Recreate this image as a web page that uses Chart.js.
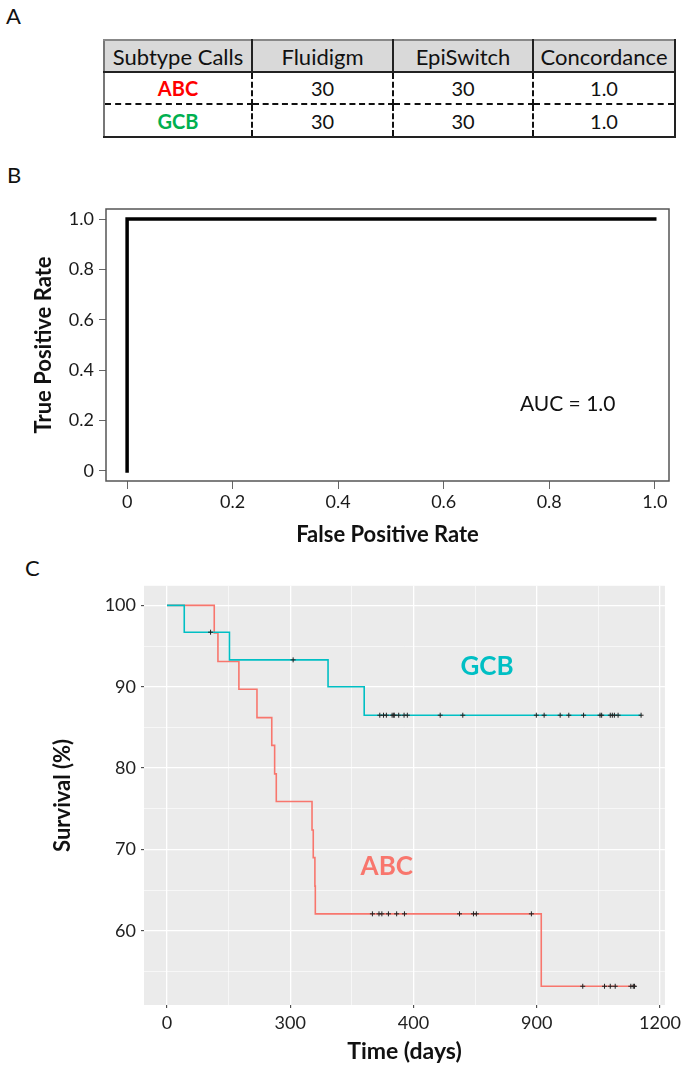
<!DOCTYPE html>
<html>
<head>
<meta charset="utf-8">
<script src="https://cdn.jsdelivr.net/npm/chart.js@4.4.1/dist/chart.umd.min.js"></script>
<style>
  body { margin: 0; width: 685px; height: 1068px; background: #fff; position: relative; overflow: hidden; font-family: Lato, sans-serif; }
  .panel { position: absolute; font-size: 22px; line-height: 22px; color: #111; }
  #calls { position: absolute; left: 103px; top: 39px; border-collapse: collapse; table-layout: fixed; width: 563px; }
  #calls th, #calls td { padding: 0; text-align: center; font-family: Lato, sans-serif; font-size: 20px; font-weight: normal; color: #111; }
  #calls th { background: #d9d9d9; height: 30px; font-size: 22px; border: 2px solid #222; border-top-color: #888; }
  #calls th:first-child { border-left-color: #777; }
  #calls th:nth-child(1) { width: 146px; }
  #calls th:nth-child(2) { width: 139px; }
  #calls th:nth-child(3) { width: 138px; }
  #calls th:nth-child(4) { width: 140px; }
  #calls td { height: 30px; border: 2px dashed #111; }
  #calls tr:last-child td { border-bottom: 2px solid #222; height: 31px; }
  #calls td:first-child { border-left: 2px solid #777; font-weight: bold; }
  #calls td:last-child { border-right: 2px solid #222; }
  canvas { position: absolute; left: 0; }
</style>
</head>
<body>
<div class="panel" style="left:6px;top:5px">A</div>
<div class="panel" style="left:7px;top:164px">B</div>
<div class="panel" style="left:25px;top:557px">C</div>
<table id="calls"></table>
<canvas id="rocChart" width="685" height="370" style="top:190px"></canvas>
<canvas id="kmChart" width="685" height="498" style="top:570px"></canvas>
<script>
// A: subtype call table
const tableHeaders = ["Subtype Calls", "Fluidigm", "EpiSwitch", "Concordance"];
const subtypes = ["ABC", "GCB"];
const subtypeColors = ["#ff0000", "#00b050"];
const fluidigmCalls = [30, 30];
const episwitchCalls = [30, 30];
const concordance = ["1.0", "1.0"];

// B: ROC curve
const rocFpr = [0, 0, 1];
const rocTpr = [0, 1, 1];
const rocTickValues = [0, 0.2, 0.4, 0.6, 0.8, 1.0];
const rocTickLabels = ["0", "0.2", "0.4", "0.6", "0.8", "1.0"];
const aucText = "AUC = 1.0";

// C: Kaplan-Meier survival
const gcbTimes = [0, 42, 152, 392, 480, 1154];
const gcbSurvival = [100, 96.7, 93.3, 90.0, 86.5, 86.5];
const gcbCensored = [106, 307, 518, 527, 534, 548, 552, 553, 564, 577, 585, 665, 720, 899, 918, 957, 978, 1014, 1054, 1058, 1079, 1084, 1089, 1098, 1154];
const abcTimes = [0, 115, 124, 175, 219, 255, 262, 266, 353, 356, 360, 361, 911, 1141];
const abcSurvival = [100, 96.6, 93.1, 89.7, 86.2, 82.8, 79.3, 75.9, 72.4, 69.0, 65.5, 62.1, 53.2, 53.2];
const abcCensored = [500, 516, 523, 539, 559, 578, 712, 746, 753, 887, 1012, 1065, 1079, 1091, 1129, 1135, 1138];
const timeTicks = [0, 300, 600, 900, 1200];
const timeTickLabels = ["0", "300", "400", "900", "1200"];
const timeMinorTicks = [150, 450, 750, 1050];
const survTicks = [60, 70, 80, 90, 100];
const survMinorTicks = [55, 65, 75, 85, 95];
const groupNames = ["GCB", "ABC"];
const groupLabelTimes = [779, 535];
const groupLabelSurv = [92.5, 67.9];

const gcbColor = "#00bfc4";
const abcColor = "#f8766d";

Chart.defaults.font.family = "Lato, sans-serif";
Chart.defaults.animation = false;

// table
const table = document.getElementById("calls");
const head = table.insertRow();
tableHeaders.forEach(h => {
    const th = document.createElement("th");
    th.textContent = h;
    head.appendChild(th);
});
subtypes.forEach((s, i) => {
    const tr = table.insertRow();
    const c = tr.insertCell();
    c.textContent = s;
    c.style.color = subtypeColors[i];
    [fluidigmCalls[i], episwitchCalls[i], concordance[i]].forEach(v => {
        tr.insertCell().textContent = v;
    });
});

// ROC
const rocBox = {
    id: "rocBox",
    afterDraw(chart) {
        const { ctx, chartArea: a, scales } = chart;
        ctx.save();
        ctx.strokeStyle = "#555";
        ctx.lineWidth = 1.5;
        ctx.strokeRect(a.left, a.top, a.right - a.left, a.bottom - a.top);
        ctx.fillStyle = "#111";
        ctx.font = "21px Lato";
        ctx.textAlign = "center";
        ctx.textBaseline = "middle";
        ctx.fillText(aucText, scales.x.getPixelForValue(0.835), scales.y.getPixelForValue(0.264));
        ctx.restore();
    }
};

new Chart(document.getElementById("rocChart"), {
    type: "line",
    data: {
        datasets: [{
            data: rocFpr.map((x, i) => ({ x: x, y: rocTpr[i] })),
            borderColor: "#000",
            borderWidth: 3.5,
            pointRadius: 0,
            borderCapStyle: "square",
            tension: 0
        }]
    },
    options: {
        responsive: false,
        devicePixelRatio: 1,
        layout: { padding: { top: 19, right: 16, left: 0, bottom: 0 } },
        plugins: { legend: { display: false }, tooltip: { enabled: false } },
        scales: {
            x: {
                type: "linear", min: -0.04, max: 1.027,
                afterBuildTicks: s => { s.ticks = rocTickValues.map(v => ({ value: v })); },
                afterFit: s => { s.height = 79; },
                border: { display: false },
                grid: { drawOnChartArea: false, tickLength: 8, tickColor: "#666", tickWidth: 1 },
                ticks: { autoSkip: false, maxRotation: 0, padding: 2, color: "#1a1a1a", font: { size: 18 },
                    callback: (v, i) => rocTickLabels[i] },
                title: { display: true, text: "False Positive Rate", color: "#111",
                    font: { size: 22, weight: "bold" }, padding: { top: 0, bottom: 12 } }
            },
            y: {
                type: "linear", min: -0.04, max: 1.04,
                afterBuildTicks: s => { s.ticks = rocTickValues.map(v => ({ value: v })); },
                afterFit: s => { s.width = 106; },
                border: { display: false },
                grid: { drawOnChartArea: false, tickLength: 7, tickColor: "#666", tickWidth: 1 },
                ticks: { autoSkip: false, padding: 5, color: "#1a1a1a", font: { size: 18 },
                    callback: (v, i) => rocTickLabels[i] },
                title: { display: true, text: "True Positive Rate", color: "#111",
                    font: { size: 22, weight: "bold" }, padding: { top: 31, bottom: 0 } }
            }
        }
    },
    plugins: [rocBox]
});

// KM
function survivalAt(times, surv, t) {
    let v = surv[0];
    times.forEach((tt, i) => { if (tt <= t) v = surv[i]; });
    return v;
}

const kmDecor = {
    id: "kmDecor",
    beforeDraw(chart) {
        const { ctx, chartArea: a } = chart;
        ctx.save();
        ctx.fillStyle = "#ebebeb";
        ctx.fillRect(a.left, a.top, a.right - a.left, a.bottom - a.top);
        ctx.restore();
    },
    afterDraw(chart) {
        const { ctx, scales } = chart;
        ctx.save();
        ctx.font = "bold 26px Lato";
        ctx.textAlign = "center";
        ctx.textBaseline = "middle";
        groupNames.forEach((g, i) => {
            ctx.fillStyle = i === 0 ? gcbColor : abcColor;
            ctx.fillText(g, scales.x.getPixelForValue(groupLabelTimes[i]), scales.y.getPixelForValue(groupLabelSurv[i]));
        });
        ctx.restore();
    }
};

const isMajorX = v => timeTicks.includes(v);
const isMajorY = v => survTicks.includes(v);

new Chart(document.getElementById("kmChart"), {
    type: "line",
    data: {
        datasets: [
            {
                data: gcbCensored.map(t => ({ x: t, y: survivalAt(gcbTimes, gcbSurvival, t) })),
                showLine: false, pointStyle: "cross", pointRadius: 2.5, pointBorderWidth: 1,
                borderColor: "#222", order: 0
            },
            {
                data: abcCensored.map(t => ({ x: t, y: survivalAt(abcTimes, abcSurvival, t) })),
                showLine: false, pointStyle: "cross", pointRadius: 2.5, pointBorderWidth: 1,
                borderColor: "#222", order: 0
            },
            {
                data: gcbTimes.map((t, i) => ({ x: t, y: gcbSurvival[i] })),
                stepped: true, borderColor: gcbColor, borderWidth: 1.6, pointRadius: 0, order: 1
            },
            {
                data: abcTimes.map((t, i) => ({ x: t, y: abcSurvival[i] })),
                stepped: true, borderColor: abcColor, borderWidth: 1.6, pointRadius: 0, order: 2
            }
        ]
    },
    options: {
        responsive: false,
        devicePixelRatio: 1,
        layout: { padding: { top: 9, right: 14, left: 0, bottom: 0 } },
        plugins: { legend: { display: false }, tooltip: { enabled: false } },
        scales: {
            x: {
                type: "linear", min: -56, max: 1212,
                afterBuildTicks: s => {
                    s.ticks = timeTicks.concat(timeMinorTicks).sort((a, b) => a - b).map(v => ({ value: v }));
                },
                afterFit: s => { s.height = 63; },
                border: { display: false },
                grid: {
                    color: "#fff",
                    lineWidth: c => (c.tick && isMajorX(c.tick.value)) ? 1.3 : 0.6,
                    tickColor: c => (c.tick && isMajorX(c.tick.value)) ? "#333" : "rgba(0,0,0,0)",
                    tickLength: 3, tickWidth: 1
                },
                ticks: { autoSkip: false, maxRotation: 0, padding: 4, color: "#222", font: { size: 18 },
                    callback: v => { const i = timeTicks.indexOf(v); return i >= 0 ? timeTickLabels[i] : ""; } },
                title: { display: true, text: "Time (days)", color: "#111",
                    font: { size: 23, weight: "bold" }, padding: { top: 0, bottom: 3 } }
            },
            y: {
                type: "linear", min: 50.9, max: 102.4,
                afterBuildTicks: s => {
                    s.ticks = survTicks.concat(survMinorTicks).sort((a, b) => a - b).map(v => ({ value: v }));
                },
                afterFit: s => { s.width = 144; },
                border: { display: false },
                grid: {
                    color: "#fff",
                    lineWidth: c => (c.tick && isMajorY(c.tick.value)) ? 1.3 : 0.6,
                    tickColor: c => (c.tick && isMajorY(c.tick.value)) ? "#333" : "rgba(0,0,0,0)",
                    tickLength: 3, tickWidth: 1
                },
                ticks: { autoSkip: false, padding: 5, color: "#222", font: { size: 18 },
                    callback: v => isMajorY(v) ? String(v) : "" },
                title: { display: true, text: "Survival (%)", color: "#111",
                    font: { size: 22, weight: "bold" }, padding: { top: 50, bottom: 0 } }
            }
        }
    },
    plugins: [kmDecor]
});
</script>
</body>
</html>
